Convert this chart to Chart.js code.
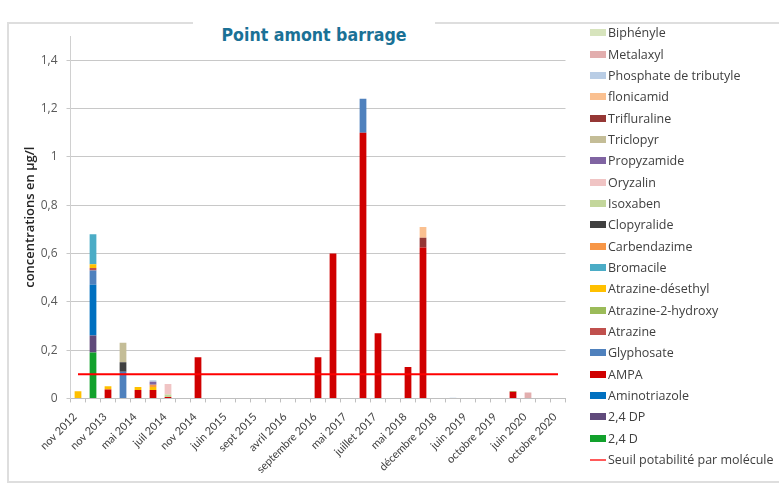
<!DOCTYPE html>
<html>
<head>
<meta charset="utf-8">
<script src="https://cdn.jsdelivr.net/npm/chart.js@4.4.1/dist/chart.umd.min.js"></script>
<style>
html, body { margin: 0; padding: 0; background: #fff; }
#wrap { position: relative; width: 779px; height: 495px; overflow: hidden; }
#frame { position: absolute; left: 7px; top: 22px; width: 800px; height: 457px; border: 2px solid #dedede; border-right: none; }
#chart { position: absolute; left: 0; top: 0; }
#title { position: absolute; left: 193px; top: 21px; width: 242px; height: 28px; background: #fff;
  text-align: center; line-height: 28px; color: #1a7196; font-weight: bold; font-size: 17.6px;
  font-family: "DejaVu Sans", sans-serif; font-stretch: condensed; }
#legend { position: absolute; left: 590px; top: 22px; font-family: "Open Sans", sans-serif; font-size: 12.5px; color: #404040; }
#legend .row { height: 21.35px; display: flex; align-items: center; white-space: nowrap; }
#legend .sw { width: 16px; height: 7px; margin-right: 2px; }
#legend .ln { width: 16px; height: 2px; margin-right: 2px; }
</style>
</head>
<body>
<div id="wrap">
  <div id="frame"></div>
  <canvas id="chart" width="779" height="495"></canvas>
  <div id="title">Point amont barrage</div>
  <div id="legend"></div>
</div>
<script>
// dates shown under the x axis (every other sample)
const tickLabels = ['nov 2012', 'nov 2013', 'mai 2014', 'juil 2014', 'nov 2014', 'juin 2015', 'sept 2015',
  'avril 2016', 'septembre 2016', 'mai 2017', 'juillet 2017', 'mai 2018', 'décembre 2018',
  'juin 2019', 'octobre 2019', 'juin 2020', 'octobre 2020'];

// 33 samples, only even ones carry a label
const categories = [];
tickLabels.forEach(function (lab, i) {
  categories.push(lab);
  if (i < tickLabels.length - 1) categories.push('');
});

// values in µg/l, one per sample (bottom of the stack first)
const d24D        = [0, 0.19, 0, 0, 0, 0, 0, 0, 0, 0, 0, 0, 0, 0, 0, 0, 0, 0, 0, 0, 0, 0, 0, 0, 0, 0, 0, 0, 0, 0, 0, 0, 0];
const d24DP       = [0, 0.07, 0, 0, 0, 0, 0, 0, 0, 0, 0, 0, 0, 0, 0, 0, 0, 0, 0, 0, 0, 0, 0, 0, 0, 0, 0, 0, 0, 0, 0, 0, 0];
const aminotriazole = [0, 0.21, 0, 0, 0, 0, 0, 0, 0, 0, 0, 0, 0, 0, 0, 0, 0, 0, 0, 0, 0, 0, 0, 0, 0, 0, 0, 0, 0, 0, 0, 0, 0];
const ampa        = [0, 0, 0.037, 0, 0.035, 0.035, 0.006, 0, 0.17, 0, 0, 0, 0, 0, 0, 0, 0.17, 0.6, 0, 1.1, 0.27, 0, 0.13, 0.625, 0, 0, 0, 0, 0, 0.028, 0, 0, 0];
const glyphosate  = [0, 0.06, 0, 0.11, 0, 0, 0, 0, 0, 0, 0, 0, 0, 0, 0, 0, 0, 0, 0, 0.14, 0, 0, 0, 0, 0, 0, 0, 0, 0, 0, 0, 0, 0];
const atrazine    = [0, 0.01, 0, 0, 0, 0, 0, 0, 0, 0, 0, 0, 0, 0, 0, 0, 0, 0, 0, 0, 0, 0, 0, 0, 0, 0, 0, 0, 0, 0, 0, 0, 0];
const atrazine2OH = [0, 0, 0, 0, 0, 0, 0, 0, 0, 0, 0, 0, 0, 0, 0, 0, 0, 0, 0, 0, 0, 0, 0, 0, 0, 0, 0, 0, 0, 0.003, 0, 0, 0];
const atrazineDes = [0.03, 0.015, 0.013, 0, 0.012, 0.012, 0, 0, 0, 0, 0, 0, 0, 0, 0, 0, 0, 0, 0, 0, 0, 0, 0, 0, 0, 0, 0, 0, 0, 0, 0, 0, 0];
const bromacile   = [0, 0.125, 0, 0, 0, 0, 0, 0, 0, 0, 0, 0, 0, 0, 0, 0, 0, 0, 0, 0, 0, 0, 0, 0, 0, 0, 0, 0, 0, 0, 0, 0, 0];
const carbendazime = [0, 0, 0, 0, 0, 0.01, 0, 0, 0, 0, 0, 0, 0, 0, 0, 0, 0, 0, 0, 0, 0, 0, 0, 0, 0, 0, 0, 0, 0, 0, 0, 0, 0];
const clopyralide = [0, 0, 0, 0.04, 0, 0, 0, 0, 0, 0, 0, 0, 0, 0, 0, 0, 0, 0, 0, 0, 0, 0, 0, 0, 0, 0, 0, 0, 0, 0, 0, 0, 0];
const isoxaben    = [0, 0, 0, 0, 0, 0, 0.01, 0, 0, 0, 0, 0, 0, 0, 0, 0, 0, 0, 0, 0, 0, 0, 0, 0, 0, 0, 0, 0, 0, 0, 0, 0, 0];
const oryzalin    = [0, 0, 0, 0, 0, 0, 0.044, 0, 0, 0, 0, 0, 0, 0, 0, 0, 0, 0, 0, 0, 0, 0, 0, 0, 0, 0, 0, 0, 0, 0, 0, 0, 0];
const propyzamide = [0, 0, 0, 0, 0, 0.012, 0, 0, 0, 0, 0, 0, 0, 0, 0, 0, 0, 0, 0, 0, 0, 0, 0, 0, 0, 0, 0, 0, 0, 0, 0, 0, 0];
const triclopyr   = [0, 0, 0, 0.08, 0, 0, 0, 0, 0, 0, 0, 0, 0, 0, 0, 0, 0, 0, 0, 0, 0, 0, 0, 0, 0, 0, 0, 0, 0, 0, 0, 0, 0];
const trifluraline = [0, 0, 0, 0, 0, 0, 0, 0, 0, 0, 0, 0, 0, 0, 0, 0, 0, 0, 0, 0, 0, 0, 0, 0.04, 0, 0, 0, 0, 0, 0, 0, 0, 0];
const flonicamid  = [0, 0, 0, 0, 0, 0, 0, 0, 0, 0, 0, 0, 0, 0, 0, 0, 0, 0, 0, 0, 0, 0, 0, 0.045, 0, 0, 0, 0, 0, 0, 0, 0, 0];
const phosphate   = [0, 0, 0, 0, 0, 0.006, 0, 0, 0, 0, 0, 0, 0, 0, 0, 0, 0, 0, 0, 0, 0, 0, 0, 0, 0, 0.003, 0, 0, 0, 0, 0, 0, 0];
const metalaxyl   = [0, 0, 0, 0, 0, 0, 0, 0, 0, 0, 0, 0, 0, 0, 0, 0, 0, 0, 0, 0, 0, 0, 0, 0, 0, 0, 0, 0, 0, 0, 0.025, 0, 0];
const biphenyle   = [0, 0, 0, 0, 0, 0, 0, 0, 0, 0, 0, 0, 0, 0, 0, 0, 0, 0, 0, 0, 0, 0, 0, 0, 0, 0, 0, 0, 0, 0, 0, 0, 0];

// drinking water limit per molecule
const seuil = [0.1, 0.1, 0.1, 0.1, 0.1, 0.1, 0.1, 0.1, 0.1, 0.1, 0.1, 0.1, 0.1, 0.1, 0.1, 0.1, 0.1,
  0.1, 0.1, 0.1, 0.1, 0.1, 0.1, 0.1, 0.1, 0.1, 0.1, 0.1, 0.1, 0.1, 0.1, 0.1, 0.1];

const yTicks = [0, 0.2, 0.4, 0.6, 0.8, 1, 1.2, 1.4];

const series = [
  ['2,4 D', d24D, '#12a12c'],
  ['2,4 DP', d24DP, '#604a7b'],
  ['Aminotriazole', aminotriazole, '#0070c0'],
  ['AMPA', ampa, '#d00000'],
  ['Glyphosate', glyphosate, '#4f81bd'],
  ['Atrazine', atrazine, '#c0504d'],
  ['Atrazine-2-hydroxy', atrazine2OH, '#9bbb59'],
  ['Atrazine-désethyl', atrazineDes, '#ffc000'],
  ['Bromacile', bromacile, '#4bacc6'],
  ['Carbendazime', carbendazime, '#f79646'],
  ['Clopyralide', clopyralide, '#404040'],
  ['Isoxaben', isoxaben, '#c3d69b'],
  ['Oryzalin', oryzalin, '#f0c4c4'],
  ['Propyzamide', propyzamide, '#8064a2'],
  ['Triclopyr', triclopyr, '#c4bd97'],
  ['Trifluraline', trifluraline, '#953735'],
  ['flonicamid', flonicamid, '#fac090'],
  ['Phosphate de tributyle', phosphate, '#b9cde5'],
  ['Metalaxyl', metalaxyl, '#e2aeae'],
  ['Biphényle', biphenyle, '#d7e4bd']
];

const datasets = series.map(function (s) {
  return { type: 'bar', label: s[0], data: s[1], backgroundColor: s[2], borderWidth: 0, stack: 'mol', order: 1 };
});
datasets.push({
  type: 'line', label: 'Seuil potabilité par molécule', data: seuil, borderColor: '#ff0000',
  borderWidth: 2, pointRadius: 0, fill: false, stack: 'seuil', order: 0
});

Chart.defaults.font.family = 'Lato, sans-serif';

new Chart(document.getElementById('chart').getContext('2d'), {
  type: 'bar',
  data: { labels: categories, datasets: datasets },
  options: {
    responsive: false,
    animation: false,
    layout: { padding: { left: 15, right: 213.5, top: 36, bottom: 11 } },
    datasets: { bar: { categoryPercentage: 1, barPercentage: 0.45 } },
    plugins: { legend: { display: false }, tooltip: { enabled: false } },
    scales: {
      x: {
        stacked: true,
        grid: { offset: true, drawOnChartArea: false, tickLength: 4, color: '#bfbfbf' },
        border: { color: '#bfbfbf' },
        ticks: {
          autoSkip: false, maxRotation: 45, minRotation: 45, padding: 8, labelOffset: -3,
          color: '#404040', font: { size: 11 },
          callback: function (v, i) { return categories[i]; }
        }
      },
      y: {
        stacked: true,
        min: 0,
        max: 1.5,
        afterBuildTicks: function (scale) {
          scale.ticks = yTicks.map(function (v) { return { value: v }; });
        },
        // chart.js reserves the tick padding twice, keep the axis where it should be
        afterFit: function (scale) { scale.width = 55.5; },
        grid: { color: '#c8c8c8', tickLength: 4 },
        border: { color: '#d0d0d0' },
        ticks: {
          padding: 9, color: '#595959', font: { family: '"Open Sans", sans-serif', size: 12 },
          callback: function (v) { return String(v).replace('.', ','); }
        },
        title: {
          display: true, text: 'concentrations en µg/l', color: '#262626', padding: { top: 7, bottom: 1 },
          font: { family: '"Open Sans", sans-serif', size: 13, weight: '600' }
        }
      }
    }
  }
});

// legend, top entry first (reverse of stacking order)
const legend = document.getElementById('legend');
series.slice().reverse().forEach(function (s) {
  legend.insertAdjacentHTML('beforeend',
    `<div class="row"><span class="sw" style="background:${s[2]}"></span>${s[0]}</div>`);
});
legend.insertAdjacentHTML('beforeend',
  '<div class="row"><span class="ln" style="background:#ff5a5a"></span>Seuil potabilité par molécule</div>');
</script>
</body>
</html>
